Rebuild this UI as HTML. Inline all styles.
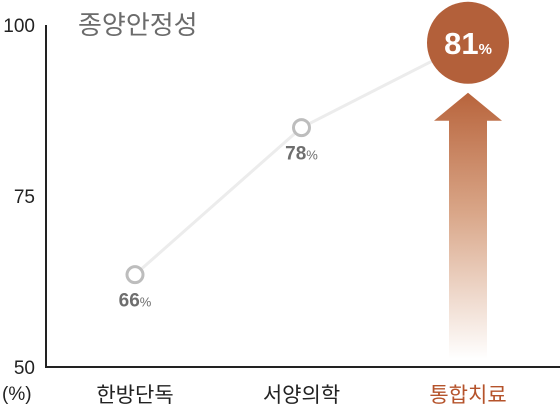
<!DOCTYPE html>
<html><head><meta charset="utf-8">
<style>
html,body{margin:0;padding:0;background:#fff;}
svg{display:block;font-family:"Liberation Sans","Noto Sans CJK KR",sans-serif;}
</style></head>
<body>
<svg id="chart" width="560" height="412" viewBox="0 0 560 412">
<defs>
<linearGradient id="ag" x1="0" y1="0" x2="0" y2="1">
<stop offset="0" stop-color="#b8643c"/>
<stop offset="0.45" stop-color="#d9a688"/>
<stop offset="1" stop-color="#ffffff"/>
</linearGradient>
</defs>
<g id="layer"></g>
</svg>
<script>
const categories = ["한방단독","서양의학","통합치료"];
const labelValues = [66, 78, 81];
const plotValues = [63.5, 85, 97.4];
const yTicks = [100, 75, 50];

const NS="http://www.w3.org/2000/svg";
const layer=document.getElementById('layer');
const y0=367, y1=25, vMin=50, vMax=100;
const yScale=v=>y0-(v-vMin)/(vMax-vMin)*(y0-y1);
const xPos=[135,301,468];
const xScale=i=>xPos[0]+i*((xPos[2]-xPos[0])/(categories.length-1));
function mk(tag,attrs,parent){const e=document.createElementNS(NS,tag);for(const k in attrs)e.setAttribute(k,attrs[k]);(parent||layer).appendChild(e);return e;}

// title
let t=mk('text',{x:78,y:34,'font-size':26,fill:'#6b6b6b'});t.textContent='종양안정성';



// axes
let ya=mk('line',{x1:46,y1:y1,x2:46,y2:y0,stroke:'#222','stroke-width':2});


let xa=mk('line',{x1:45,y1:y0,x2:560,y2:y0,stroke:'#222','stroke-width':2});



yTicks.forEach(v=>{
  const e=mk('text',{x:35,y:yScale(v)+7,'font-size':19,fill:'#222','text-anchor':'end'});
  e.textContent=String(v);
  
  
});
let u=mk('text',{x:2,y:400,'font-size':19,fill:'#222'});u.textContent='(%)';



// arrow
const ax=xScale(2), topY=yScale(plotValues[2])+50;
let ar=mk('path',{d:`M${ax-34},${topY+28} L${ax},${topY} L${ax+34},${topY+28} L${ax+19},${topY+28} L${ax+19},${y0-8} L${ax-19},${y0-8} L${ax-19},${topY+28} Z`,fill:'url(#ag)'});



// line
let pts=plotValues.map((v,i)=>xScale(i)+','+yScale(v)).join(' ');
let ln=mk('polyline',{points:pts,fill:'none',stroke:'#ececec','stroke-width':3});



categories.forEach((c,i)=>{
  const cx=xScale(i), cy=yScale(plotValues[i]);
  if(i<2){
    const m=mk('circle',{cx:cx,cy:cy,r:8,fill:'#fff',stroke:'#bdbdbd','stroke-width':3});
    
    
    const l=mk('text',{x:cx,y:cy+32,'font-size':19,fill:'#6e6e6e','text-anchor':'middle','font-weight':'bold'});
    l.innerHTML=labelValues[i]+'<tspan font-size="13" font-weight="normal">%</tspan>';
    
    
  } else {
    const m=mk('circle',{cx:cx,cy:cy,r:41,fill:'#b3603a'});
    
    
    const l=mk('text',{x:cx,y:cy+11,'font-size':31,fill:'#fff','text-anchor':'middle','font-weight':'bold'});
    l.innerHTML=labelValues[i]+'<tspan font-size="15">%</tspan>';
    
    
  }
  const cl=mk('text',{x:cx,y:402,'font-size':21,fill:i==2?'#b5532b':'#222','text-anchor':'middle'});
  cl.textContent=c;
  
  
});
</script>
</body></html>
